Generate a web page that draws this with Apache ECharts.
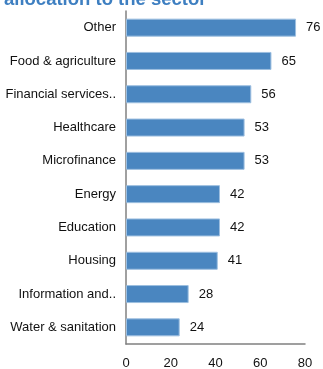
<!DOCTYPE html>
<html>
<head>
<meta charset="utf-8">
<script src="https://cdn.jsdelivr.net/npm/echarts@6/dist/echarts.min.js"></script>
<style>
  html, body { margin: 0; padding: 0; background: #fff; }
  #chart { width: 323px; height: 369px; }
</style>
</head>
<body>
<div id="chart"></div>
<script>
// Sectors, listed bottom to top as the category axis draws them
const sectors = [
  'Water & sanitation',
  'Information and..',
  'Housing',
  'Education',
  'Energy',
  'Microfinance',
  'Healthcare',
  'Financial services..',
  'Food & agriculture',
  'Other'
];
const allocations = [24, 28, 41, 42, 42, 53, 53, 56, 65, 76];
const xTicks = [0, 20, 40, 60, 80];

const FONT = '"Liberation Sans", Arial, sans-serif';

const chart = echarts.init(document.getElementById('chart'), null, { renderer: 'canvas' });

chart.setOption({
  animation: false,
  title: {
    text: 'allocation to the sector',
    left: -1,
    top: -15,
    textStyle: {
      color: '#3E7FC1',
      fontFamily: FONT,
      fontSize: 18.5,
      fontWeight: 'bold'
    }
  },
  grid: {
    left: 126, right: 18, top: 11, bottom: 25,
    containLabel: false,
    outerBoundsMode: 'none'
  },
  xAxis: {
    type: 'value',
    min: xTicks[0],
    max: xTicks[xTicks.length - 1],
    interval: 20,
    axisLine: { show: true, lineStyle: { color: '#808080', width: 1.5 } },
    axisTick: { show: false },
    splitLine: { show: false },
    axisLabel: {
      margin: 13,
      color: '#111',
      fontFamily: FONT,
      fontSize: 13
    }
  },
  yAxis: {
    type: 'category',
    data: sectors,
    axisLine: { show: true, lineStyle: { color: '#808080', width: 1.5 } },
    axisTick: { show: false },
    axisLabel: {
      margin: 10,
      color: '#111',
      fontFamily: FONT,
      fontSize: 13
    }
  },
  series: [{
    type: 'bar',
    data: allocations,
    barWidth: 18,
    itemStyle: {
      color: '#4A86C0',
      borderColor: '#9DBFE0',
      borderWidth: 1
    },
    label: {
      show: true,
      position: 'right',
      distance: 10,
      color: '#111',
      fontFamily: FONT,
      fontSize: 13
    }
  }]
});
</script>
</body>
</html>
